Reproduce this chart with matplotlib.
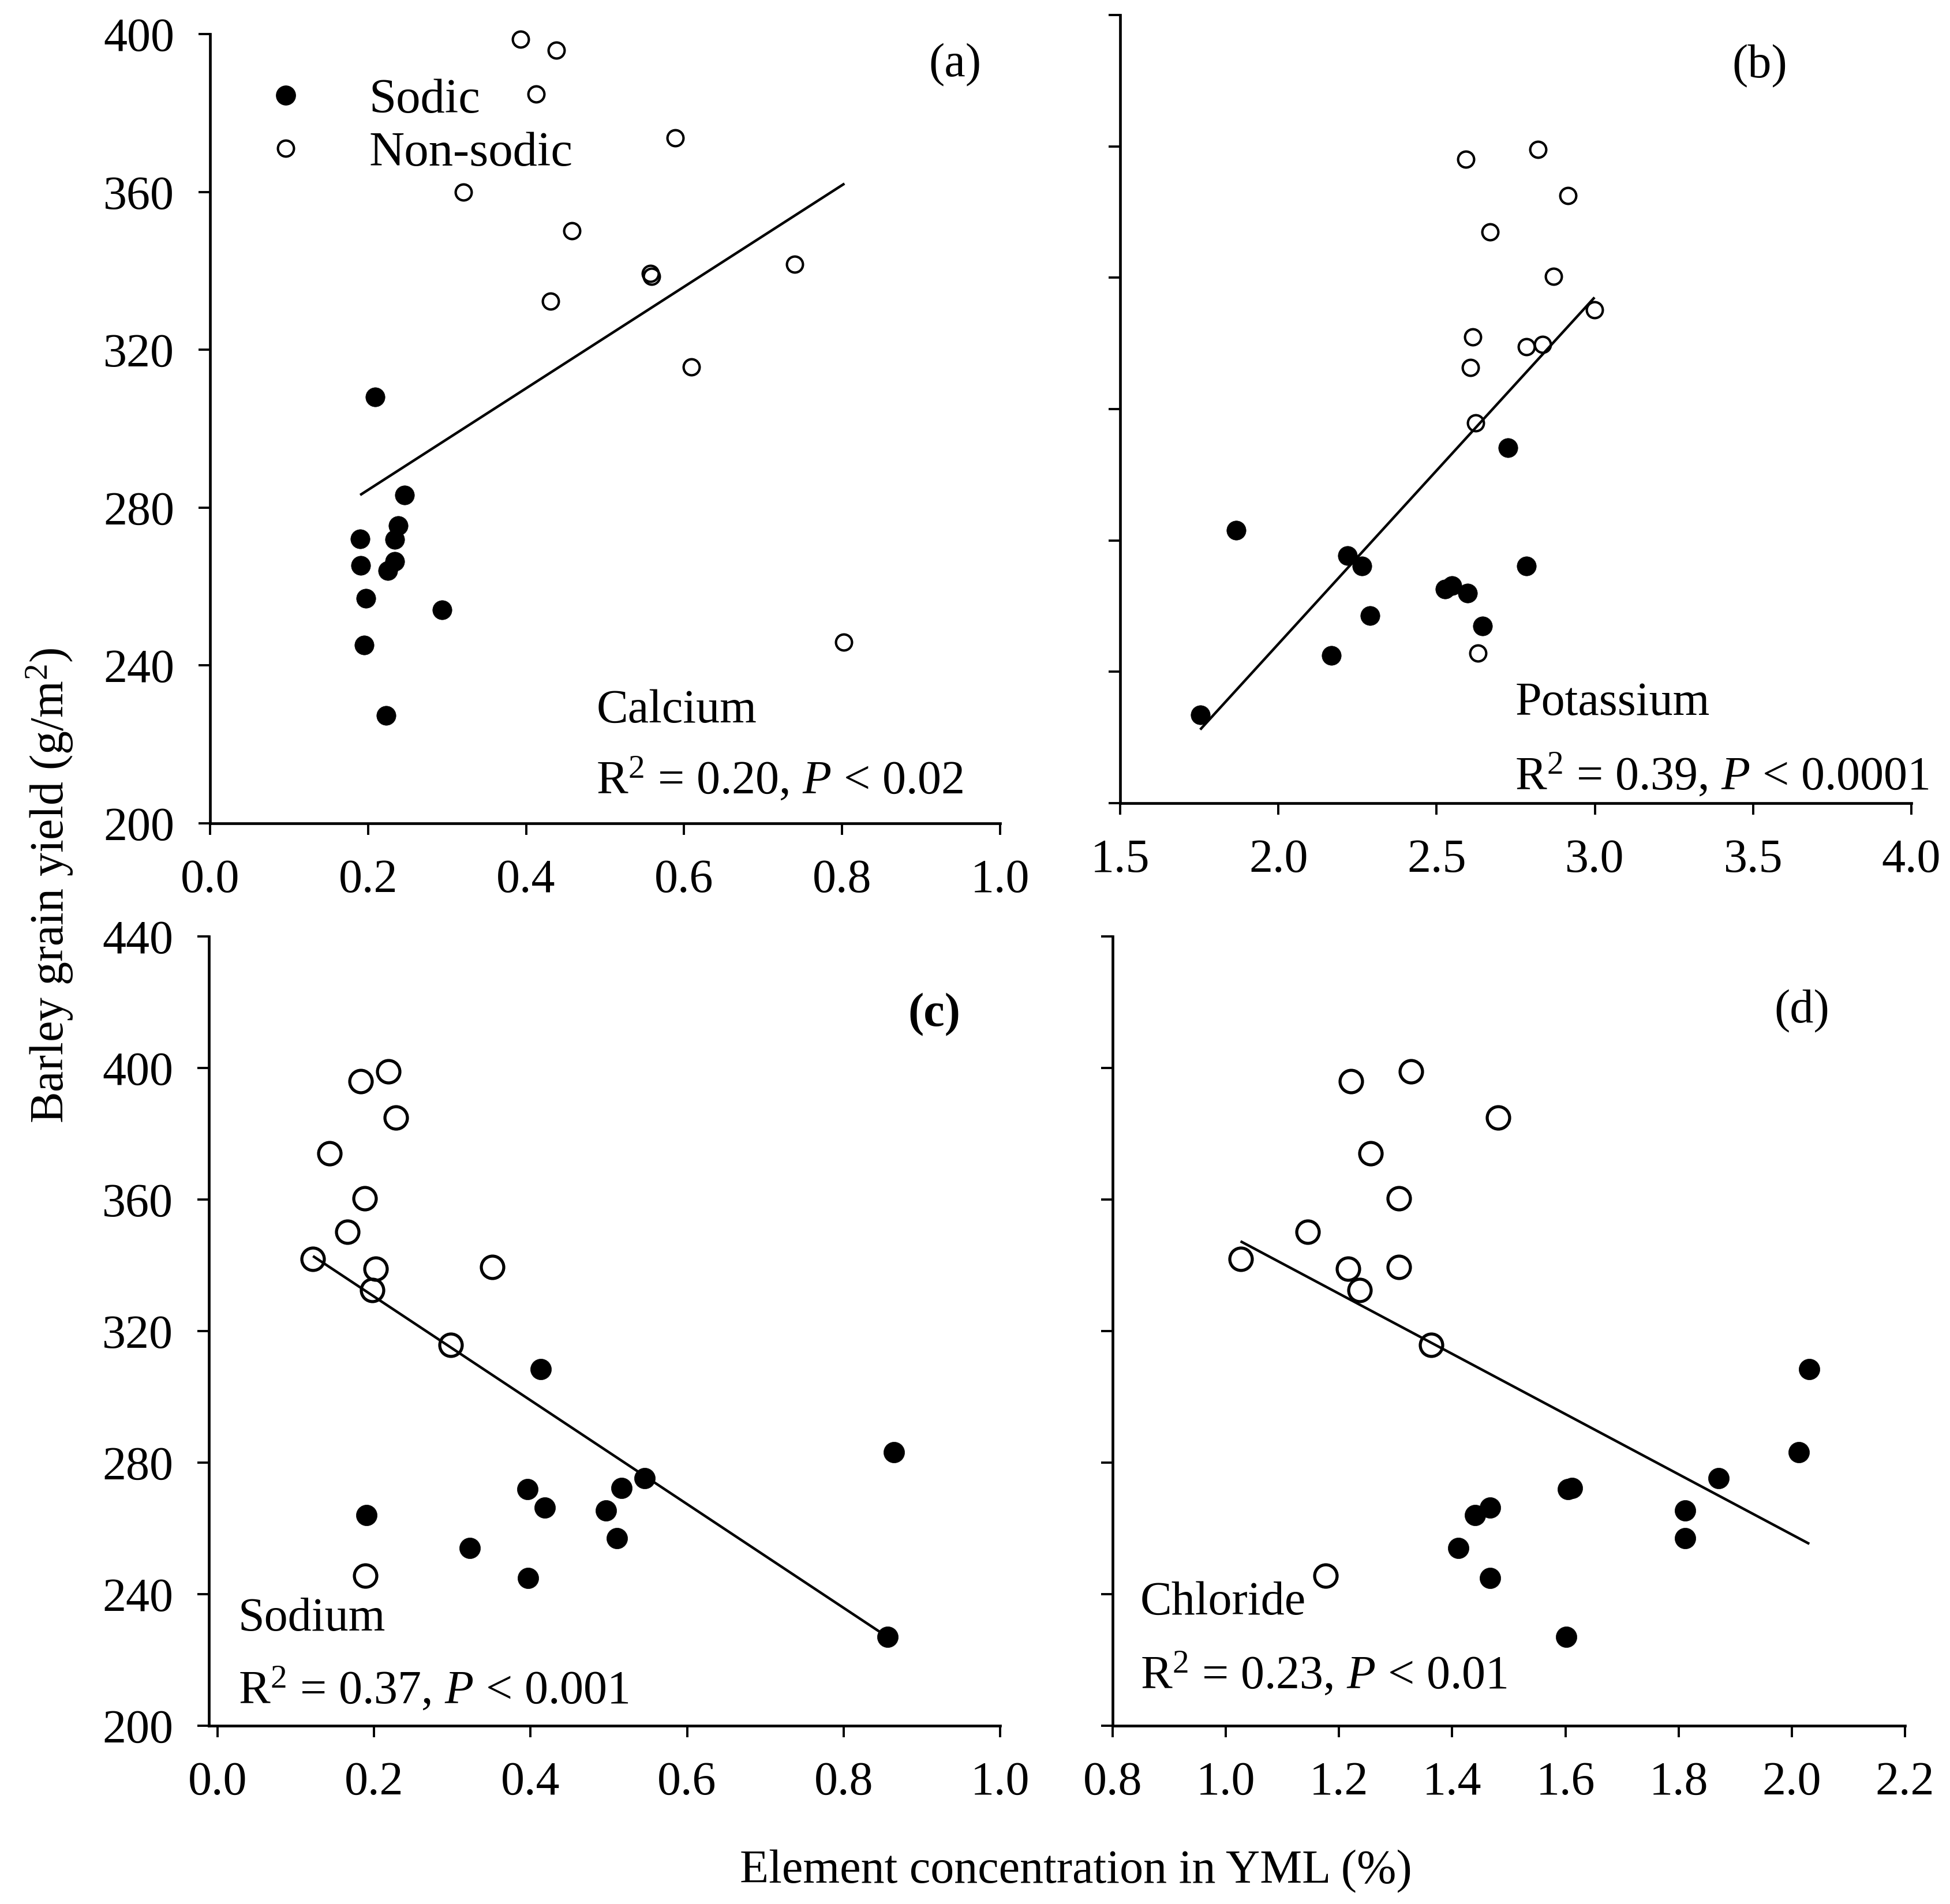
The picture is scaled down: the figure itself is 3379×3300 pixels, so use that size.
import numpy as np
import matplotlib
matplotlib.use("Agg")
import matplotlib.pyplot as plt
from matplotlib.lines import Line2D

plt.rcParams['font.family'] = ['Liberation Serif', 'DejaVu Serif']
plt.rcParams['mathtext.fontset'] = 'custom'
plt.rcParams['mathtext.rm'] = 'Liberation Serif'
plt.rcParams['mathtext.it'] = 'Liberation Serif:italic'
plt.rcParams['mathtext.bf'] = 'Liberation Serif:bold'

# ---------------- data ----------------
# (a) Calcium
ca_sodic_x = [0.209, 0.246, 0.238, 0.234, 0.190, 0.191, 0.234, 0.225, 0.197, 0.294, 0.195, 0.223]
ca_sodic_y = [308.0, 283.2, 275.5, 272.0, 272.1, 265.3, 266.4, 264.0, 257.0, 254.1, 245.2, 227.3]
ca_non_x = [0.393, 0.438, 0.413, 0.589, 0.321, 0.458, 0.740, 0.557, 0.559, 0.431, 0.609, 0.802]
ca_non_y = [398.7, 395.9, 384.8, 373.7, 360.0, 350.1, 341.6, 339.4, 338.6, 332.3, 315.7, 245.9]
ca_fit_x = [0.190, 0.803]
ca_fit_y = [283.2, 362.1]

# (b) Potassium
k_sodic_x = [2.725, 1.867, 2.218, 2.264, 2.784, 2.548, 2.526, 2.598, 2.290, 2.645, 2.168, 1.753]
k_sodic_y = [308.2, 283.1, 275.4, 272.2, 272.2, 266.3, 265.1, 264.0, 257.1, 254.0, 244.9, 226.9]
k_non_x = [2.593, 2.820, 2.915, 2.669, 2.870, 2.999, 2.614, 2.784, 2.834, 2.607, 2.624, 2.631]
k_non_y = [396.1, 399.1, 385.0, 374.0, 360.4, 350.3, 342.0, 339.0, 339.7, 332.6, 315.8, 245.6]
k_fit_x = [1.753, 2.999]
k_fit_y = [222.4, 354.0]

# (c) Sodium
na_sodic_x = [0.413, 0.864, 0.546, 0.396, 0.516, 0.418, 0.496, 0.190, 0.510, 0.322, 0.397, 0.856]
na_sodic_y = [308.5, 283.1, 275.3, 272.0, 272.2, 266.3, 265.4, 264.0, 257.1, 254.1, 244.9, 227.0]
na_non_x = [0.218, 0.183, 0.228, 0.143, 0.188, 0.166, 0.122, 0.202, 0.351, 0.198, 0.298, 0.189]
na_non_y = [399.0, 395.9, 385.0, 374.1, 360.3, 350.2, 342.0, 339.0, 339.5, 332.5, 315.8, 245.7]
na_fit_x = [0.122, 0.856]
na_fit_y = [342.8, 227.0]

# (d) Chloride
cl_sodic_x = [2.031, 2.012, 1.871, 1.605, 1.612, 1.467, 1.811, 1.440, 1.811, 1.411, 1.467, 1.601]
cl_sodic_y = [308.5, 283.1, 275.3, 272.0, 272.2, 266.3, 265.4, 264.0, 257.1, 254.1, 244.9, 227.0]
cl_non_x = [1.327, 1.221, 1.481, 1.256, 1.306, 1.145, 1.026, 1.216, 1.306, 1.236, 1.363, 1.176]
cl_non_y = [399.0, 395.9, 385.0, 374.1, 360.3, 350.2, 342.0, 339.0, 339.5, 332.5, 315.8, 245.7]
cl_fit_x = [1.026, 2.031]
cl_fit_y = [347.3, 255.3]

# ticks
a_xticks = [0.0, 0.2, 0.4, 0.6, 0.8, 1.0]
a_xlabels = ["0.0", "0.2", "0.4", "0.6", "0.8", "1.0"]
a_yticks = [200, 240, 280, 320, 360, 400]
b_xticks = [1.5, 2.0, 2.5, 3.0, 3.5, 4.0]
b_xlabels = ["1.5", "2.0", "2.5", "3.0", "3.5", "4.0"]
cd_yticks = [200, 240, 280, 320, 360, 400, 440]
c_xticks = [0.0, 0.2, 0.4, 0.6, 0.8, 1.0]
c_xlabels = ["0.0", "0.2", "0.4", "0.6", "0.8", "1.0"]
d_xticks = [0.8, 1.0, 1.2, 1.4, 1.6, 1.8, 2.0, 2.2]
d_xlabels = ["0.8", "1.0", "1.2", "1.4", "1.6", "1.8", "2.0", "2.2"]

series_labels = ["Sodic", "Non-sodic"]
panel_tags = ["(a)", "(b)", "(c)", "(d)"]
element_names = ["Calcium", "Potassium", "Sodium", "Chloride"]
stats_text = [r"R$^2$ = 0.20, $P$ < 0.02", r"R$^2$ = 0.39, $P$ < 0.0001",
              r"R$^2$ = 0.37, $P$ < 0.001", r"R$^2$ = 0.23, $P$ < 0.01"]

# ---------------- figure ----------------
W, H = 3380, 3300
fig = plt.figure(figsize=(W / 100, H / 100), dpi=100)

def px_axes(l, r, t, b):
    return fig.add_axes([l / W, 1 - b / H, (r - l) / W, (b - t) / H])

FS = 59
SPINE_LW = 3.4
TICK_LW = 2.8

ax_a = px_axes(364, 1733, 59, 1427)
ax_b = px_axes(1941, 3312, 26, 1392)
ax_c = px_axes(362, 1733, 1623, 2991)
ax_d = px_axes(1928, 3301, 1623, 2991)

def style(ax):
    for s in ["top", "right"]:
        ax.spines[s].set_visible(False)
    for s in ["left", "bottom"]:
        ax.spines[s].set_linewidth(SPINE_LW)
    ax.tick_params(axis="both", direction="out", length=14.5, width=TICK_LW,
                   labelsize=FS)
    ax.tick_params(axis="x", pad=30)
    ax.tick_params(axis="y", pad=30)

small = dict(fill_ms=24, open_ms=20, open_mew=3.0)
large = dict(fill_ms=26, open_ms=28, open_mew=3.8)

def draw(ax, sx, sy, nx, ny, fx, fy, st):
    ax.plot(fx, fy, color="black", lw=3.2, zorder=2, solid_capstyle="butt")
    ax.plot(sx, sy, linestyle="none", marker="o", markersize=st["fill_ms"],
            markerfacecolor="black", markeredgecolor="black", markeredgewidth=0.5,
            zorder=3, clip_on=False)
    ax.plot(nx, ny, linestyle="none", marker="o", markersize=st["open_ms"],
            markerfacecolor="none", markeredgecolor="black",
            markeredgewidth=st["open_mew"], zorder=3, clip_on=False)

# (a)
style(ax_a)
draw(ax_a, ca_sodic_x, ca_sodic_y, ca_non_x, ca_non_y, ca_fit_x, ca_fit_y, small)
ax_a.set_xlim(0.0, 1.0)
ax_a.set_ylim(200, 400)
ax_a.set_xticks(a_xticks, a_xlabels)
ax_a.set_yticks(a_yticks, [str(v) for v in a_yticks])

# (b)
style(ax_b)
draw(ax_b, k_sodic_x, k_sodic_y, k_non_x, k_non_y, k_fit_x, k_fit_y, small)
ax_b.set_xlim(1.5, 4.0)
ax_b.set_ylim(200, 440)
ax_b.set_xticks(b_xticks, b_xlabels)
ax_b.set_yticks(cd_yticks)
ax_b.tick_params(axis="y", labelleft=False)

# (c)
style(ax_c)
draw(ax_c, na_sodic_x, na_sodic_y, na_non_x, na_non_y, na_fit_x, na_fit_y, large)
ax_c.set_xlim(-0.011, 1.0)
ax_c.set_ylim(200, 440)
ax_c.set_xticks(c_xticks, c_xlabels)
ax_c.set_yticks(cd_yticks, [str(v) for v in cd_yticks])

# (d)
style(ax_d)
draw(ax_d, cl_sodic_x, cl_sodic_y, cl_non_x, cl_non_y, cl_fit_x, cl_fit_y, large)
ax_d.set_xlim(0.8, 2.2)
ax_d.set_ylim(200, 440)
ax_d.set_xticks(d_xticks, d_xlabels)
ax_d.set_yticks(cd_yticks)
ax_d.tick_params(axis="y", labelleft=False)

# legend in (a)
handles = [
    Line2D([], [], linestyle="none", marker="o", markersize=small["fill_ms"],
           markerfacecolor="black", markeredgecolor="black"),
    Line2D([], [], linestyle="none", marker="o", markersize=small["open_ms"],
           markerfacecolor="none", markeredgecolor="black",
           markeredgewidth=small["open_mew"]),
]
ax_a.legend(handles, series_labels, loc="upper left", bbox_to_anchor=(0.034, 0.944),
            frameon=False, fontsize=61, borderpad=0, borderaxespad=0,
            handlelength=2.0, handletextpad=0.7, labelspacing=0.17)

# panel annotations
ax_a.text(0.976, 0.961, panel_tags[0], transform=ax_a.transAxes, ha="right", va="center", fontsize=FS)
ax_b.text(0.843, 0.935, panel_tags[1], transform=ax_b.transAxes, ha="right", va="center", fontsize=FS)
ax_c.text(0.950, 0.9006, panel_tags[2], transform=ax_c.transAxes, ha="right", va="center",
          fontsize=FS, fontweight="bold")
ax_d.text(0.905, 0.905, panel_tags[3], transform=ax_d.transAxes, ha="right", va="center", fontsize=FS)

ax_a.text(0.489, 0.128, element_names[0], transform=ax_a.transAxes, ha="left", va="baseline", fontsize=FS)
ax_a.text(0.489, 0.038, stats_text[0], transform=ax_a.transAxes, ha="left", va="baseline", fontsize=FS)
ax_b.text(0.499, 0.112, element_names[1], transform=ax_b.transAxes, ha="left", va="baseline", fontsize=FS)
ax_b.text(0.499, 0.0176, stats_text[1], transform=ax_b.transAxes, ha="left", va="baseline", fontsize=FS)
ax_c.text(0.037, 0.1206, element_names[2], transform=ax_c.transAxes, ha="left", va="baseline", fontsize=FS)
ax_c.text(0.037, 0.029, stats_text[2], transform=ax_c.transAxes, ha="left", va="baseline", fontsize=FS)
ax_d.text(0.035, 0.141, element_names[3], transform=ax_d.transAxes, ha="left", va="baseline", fontsize=FS)
ax_d.text(0.035, 0.048, stats_text[3], transform=ax_d.transAxes, ha="left", va="baseline", fontsize=FS)

fig.text(86 / W, 1 - 1535 / H, r"Barley grain yield (g/m$^2$)", rotation=90,
         ha="center", va="center", fontsize=FS)
fig.text(1864 / W, 1 - 3263 / H, "Element concentration in YML (%)",
         ha="center", va="baseline", fontsize=FS)

fig.savefig("out.png", dpi=100)
